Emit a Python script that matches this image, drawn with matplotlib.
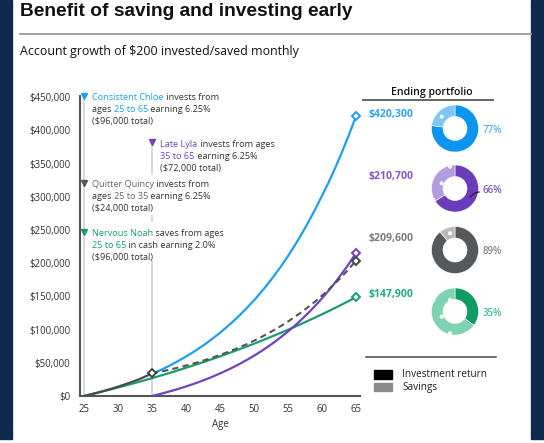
import matplotlib.pyplot as plt
from matplotlib.patches import Rectangle
from matplotlib.lines import Line2D

# ---- data ----
ages = list(range(25, 66))
chloe = [0, 2500, 5100, 7900, 10900, 14000, 17400, 21000, 24800, 29200, 34000,
         37800, 42700, 47900, 53500, 59400, 65700, 72400, 79500, 87100, 95200,
         103800, 112900, 122600, 133000, 144000, 155700, 168200, 181500, 195600, 210600,
         226600, 243600, 261700, 280900, 301300, 322000, 344500, 368500, 394000, 421000]
quincy = [0, 2500, 5100, 7900, 10900, 14000, 17400, 21000, 24800, 29200, 34000,
          36100, 38300, 40700, 43200, 45800, 48600, 51600, 54800, 58200, 61800,
          65600, 69600, 73900, 78400, 83200, 88300, 93800, 99500, 105600, 112100,
          119000, 126300, 134100, 142300, 151100, 160300, 170200, 180600, 191700, 203500]
noah = [0, 2450, 4950, 7500, 10100, 12800, 15500, 18200, 21100, 23900, 26900,
        29900, 32900, 36000, 39200, 42500, 45800, 49100, 52600, 56100, 59700,
        63300, 67100, 70900, 74800, 78700, 82800, 86900, 91100, 95400, 99800,
        104200, 108800, 113400, 118200, 123000, 127900, 133000, 138100, 143300, 148700]
lyla_ages = list(range(35, 66))
lyla = [0, 2500, 5200, 8100, 11100, 14300, 17800, 21400, 25300, 29500, 33900,
        38600, 43600, 48900, 54600, 60600, 67000, 73800, 81100, 88900, 97100,
        105800, 115200, 125100, 135700, 146900, 158900, 171600, 185200, 199600, 215000]

ending_labels = ["$420,300", "$210,700", "$209,600", "$147,900"]
return_pct = [77, 66, 89, 35]
y_ticks = [0, 50000, 100000, 150000, 200000, 250000, 300000, 350000, 400000, 450000]
x_ticks = [25, 30, 35, 40, 45, 50, 55, 60, 65]

# colours
BLUE, PURPLE, GREEN = "#1e9ff3", "#7143c2", "#1a9e69"
dark_c = ["#0c95ee", "#6a3cba", "#55595c", "#0e9c62"]
light_c = ["#7fc7f6", "#b39de0", "#b9b9b9", "#7fd3b2"]
pct_c = ["#5db7f1", "#8458c9", "#8a8a8a", "#3fbf91"]
val_c = ["#35a3f1", "#8458c9", "#7d7d7d", "#25ad7b"]
TXT = "#333333"
NAVY = "#0f2a4d"

W, H = 544, 443
plt.rcParams["font.family"] = ["Open Sans", "DejaVu Sans"]
plt.rcParams["hatch.linewidth"] = 0.5
plt.rcParams["hatch.color"] = "white"


def fx(px):
    return px / W


def fy(py):
    return 1 - py / H


fig = plt.figure(figsize=(W / 100, H / 100), dpi=100)
fig.patch.set_facecolor("white")

# navy frame strips
fig.patches.append(Rectangle((0, fy(439)), fx(12), 1 - fy(439), transform=fig.transFigure,
                             color=NAVY, zorder=0))
fig.patches.append(Rectangle((fx(531), fy(439)), 1 - fx(531), 1 - fy(439), transform=fig.transFigure,
                             color=NAVY, zorder=0))

fig.text(fx(20), fy(12), "Benefit of saving and investing early", fontsize=13.8,
         fontweight="bold", family="Liberation Sans", color="#111111", va="center")
fig.add_artist(Line2D([fx(20), fx(531)], [fy(34), fy(34)], color="#9a9a9a", lw=1.3))
fig.text(fx(20), fy(52), "Account growth of $200 invested/saved monthly", fontsize=8.9,
         color="#111111", va="center")

# ---- main chart ----
ax = fig.add_axes([fx(80), fy(396), fx(360) - fx(80), fy(95.8) - fy(396)])
ax.set_xlim(24.41, 65.6)
ax.set_ylim(0, 452000)

ax.axvline(25, color="#d6d6d6", lw=1.3, zorder=1)
ax.vlines([35, 35, 35], [332800, 262000, 0], [378000, 272600, 203300],
          color="#d6d6d6", lw=1.3, zorder=1)

ax.plot(ages[10:], chloe[10:], color=BLUE, lw=1.6, zorder=3)
ax.plot(ages, noah, color=GREEN, lw=1.6, zorder=3)
ax.plot(lyla_ages, lyla, color=PURPLE, lw=1.6, zorder=3)
ax.plot(ages[10:], quincy[10:], color="#555555", lw=1.5, ls=(0, (3, 2)), zorder=4)
ax.plot(ages[:11], quincy[:11], color="#4a4a4a", lw=1.6, zorder=4)

mk = dict(marker="D", ms=4.5, mfc="white", mew=1.4, zorder=5, ls="none", clip_on=False)
ax.plot(65, chloe[-1], mec=BLUE, **mk)
ax.plot(65, lyla[-1], mec=PURPLE, **mk)
ax.plot(65, quincy[-1], mec="#444444", **mk)
ax.plot(65, noah[-1], mec=GREEN, **mk)
ax.plot(35, quincy[10], mec="#444444", **mk)

# annotation markers
tri = dict(marker="v", ms=5, ls="none", zorder=6, clip_on=False)
ax.plot(25, 452000, color=BLUE, **tri)
ax.plot(35, 383000, color=PURPLE, **tri)
ax.plot(25, 320000, color="#555555", **tri)
ax.plot(25, 247500, color=GREEN, **tri)

for s in ["top", "right"]:
    ax.spines[s].set_visible(False)
for s in ["left", "bottom"]:
    ax.spines[s].set_color("#555555")
    ax.spines[s].set_linewidth(1.5)
ax.set_yticks(y_ticks)
ax.set_yticklabels(["${:,}".format(v) for v in y_ticks])
ax.set_xticks(x_ticks)
ax.tick_params(length=0, labelsize=6.9, colors=TXT)
ax.tick_params(axis="y", pad=7)
ax.tick_params(axis="x", pad=6)
ax.set_xlabel("Age", fontsize=7, color=TXT, labelpad=3)


def rich(px, py, parts, size=6.6):
    # first chunk placed in figure pixels, the rest chained after it
    t = fig.text(fx(px), fy(py), parts[0][0], color=parts[0][1], fontsize=size, va="center")
    for s, c in parts[1:]:
        t = ax.annotate(s, xy=(1, 0), xycoords=t, color=c, fontsize=size, va="bottom",
                        annotation_clip=False)
    return t


rich(92, 97.5, [("Consistent Chloe", BLUE), (" invests from", TXT)])
rich(92, 109.5, [("ages ", TXT), ("25 to 65", BLUE), (" earning 6.25%", TXT)])
rich(92, 121.5, [("($96,000 total)", TXT)])

rich(160.5, 144.5, [("Late Lyla", PURPLE), (" invests from ages", TXT)])
rich(160.5, 156.2, [("35 to 65", PURPLE), (" earning 6.25%", TXT)])
rich(160.5, 168, [("($72,000 total)", TXT)])

rich(92, 184.5, [("Quitter Quincy", "#666666"), (" invests from", TXT)])
rich(92, 196.2, [("ages ", TXT), ("25 to 35", "#666666"), (" earning 6.25%", TXT)])
rich(92, 208, [("($24,000 total)", TXT)])

rich(92, 234, [("Nervous Noah", GREEN), (" saves from ages", TXT)])
rich(92, 245.7, [("25 to 65", GREEN), (" in cash earning 2.0%", TXT)])
rich(92, 257.3, [("($96,000 total)", TXT)])

# ---- ending portfolio panel ----
fig.text(fx(431.5), fy(92), "Ending portfolio", fontsize=7.6, fontweight="semibold",
         color="#111111", ha="center", va="center")
fig.add_artist(Line2D([fx(363), fx(493)], [fy(99.5), fy(99.5)], color="#666666", lw=1.4))

centers = [128.5, 188.5, 250, 311.5]
label_y = [114, 176.7, 238, 295]
r = 24
for i, yc in enumerate(centers):
    dax = fig.add_axes([fx(455 - r), fy(yc + r), fx(2 * r), fy(0) - fy(2 * r)])
    wedges, _ = dax.pie([return_pct[i], 100 - return_pct[i]], colors=[dark_c[i], light_c[i]],
                        startangle=90, counterclock=False, radius=0.98,
                        wedgeprops=dict(width=0.48, edgecolor="white", linewidth=0.4))
    wedges[1].set_hatch(".")
    dax.set_xlim(-1, 1)
    dax.set_ylim(-1, 1)
    dax.set_aspect("equal")
    dax.axis("off")
    fig.text(fx(369), fy(label_y[i]), ending_labels[i], fontsize=7.6, fontweight="bold",
             color=val_c[i], va="center")
    fig.text(fx(482.5), fy(yc + 1.5), "{}%".format(return_pct[i]), fontsize=7,
             fontweight="semibold", color=pct_c[i], va="center")

fig.add_artist(Line2D([fx(470), fx(475), fx(479)], [fy(197), fy(193), fy(192)],
                      color="#222222", lw=0.9))

# legend
fig.add_artist(Line2D([fx(366), fx(496)], [fy(357), fy(357)], color="#555555", lw=1.2))
fig.patches.append(Rectangle((fx(374), fy(378.5)), fx(18), fy(370) - fy(378.5),
                             transform=fig.transFigure, color="#000000"))
fig.patches.append(Rectangle((fx(374), fy(391)), fx(18), fy(383) - fy(391),
                             transform=fig.transFigure, color="#8a8a8a"))
fig.text(fx(402), fy(374.5), "Investment return", fontsize=7.2, color="#222222", va="center")
fig.text(fx(402), fy(387.5), "Savings", fontsize=7.2, color="#222222", va="center")

fig.savefig("out.png", dpi=100)
